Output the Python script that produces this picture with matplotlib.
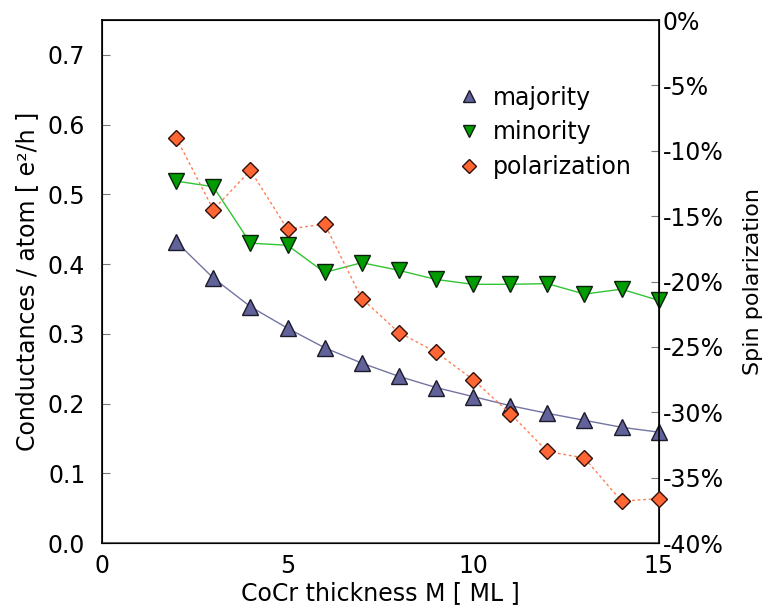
import matplotlib.pyplot as plt
import numpy as np

# layer thickness M (ML)
thickness = [2, 3, 4, 5, 6, 7, 8, 9, 10, 11, 12, 13, 14, 15]

# conductances per atom in e^2/h
majority = [0.432, 0.380, 0.339, 0.308, 0.280, 0.258, 0.239, 0.223, 0.210, 0.197, 0.186, 0.176, 0.166, 0.159]
minority = [0.519, 0.511, 0.430, 0.427, 0.388, 0.402, 0.391, 0.378, 0.371, 0.371, 0.372, 0.357, 0.364, 0.348]

# spin polarization in percent
polarization = [-9.0, -14.5, -11.5, -16.0, -15.6, -21.3, -23.9, -25.4, -27.5, -30.1, -33.0, -33.5, -36.8, -36.6]

plt.rcParams['font.family'] = ['DejaVu Sans']

fig = plt.figure(figsize=(7.65, 6.07), dpi=100)
ax = fig.add_axes([0.1333, 0.1054, 0.7277, 0.8616])
ax2 = ax.twinx()

ax.plot(thickness, majority, color='#7474a4', lw=1.0, marker='^', ms=11,
        mfc='#62629a', mec='#1a1a2a', mew=1.0, label='majority', zorder=3, clip_on=False)
ax.plot(thickness, minority, color='#33c433', lw=1.0, marker='v', ms=11,
        mfc='#009c00', mec='#0a200a', mew=1.0, label='minority', zorder=3, clip_on=False)
ax2.plot(thickness, polarization, color='#ff7f55', lw=1.0, ls=(0, (2, 2)),
         marker='D', ms=8, mfc='#ff6633', mec='#301008', mew=1.0,
         label='polarization', zorder=3, clip_on=False)

ax.set_xlim(0, 15)
ax.set_ylim(0, 0.75)
ax2.set_ylim(-40, 0)

ax.set_xticks([0, 5, 10, 15])
ax.set_yticks(np.arange(0, 0.71, 0.1))
ax.set_yticklabels(['%.1f' % v for v in np.arange(0, 0.71, 0.1)])
ax2.set_yticks(range(-40, 1, 5))
ax2.set_yticklabels(['%d%%' % v for v in range(-40, 1, 5)])

ax.tick_params(axis='y', direction='in', length=6, color='#777777', labelsize=17, pad=12)
ax.tick_params(axis='x', length=0, labelsize=17, pad=8)
ax2.tick_params(axis='y', direction='in', length=6, color='#777777', labelsize=17, pad=3)

ax.spines['bottom'].set_color('#666666')
ax.spines['bottom'].set_linewidth(1.5)
for s in ['left', 'right', 'top']:
    ax2.spines[s].set_linewidth(1.2)

ax.set_xlabel('CoCr thickness M [ ML ]', fontsize=17, labelpad=2)
ax.set_ylabel('Conductances / atom [ e²/h ]', fontsize=17, labelpad=6)
ax2.set_ylabel('Spin polarization', fontsize=16, labelpad=14)

h1, l1 = ax.get_legend_handles_labels()
h2, l2 = ax2.get_legend_handles_labels()
leg = ax2.legend(h1 + h2, l1 + l2, loc='upper right', bbox_to_anchor=(0.99, 0.915),
                 frameon=False, fontsize=17, handlelength=0, handletextpad=1.0,
                 markerscale=0.85, labelspacing=0.45)

fig.savefig('out.png', dpi=100)
